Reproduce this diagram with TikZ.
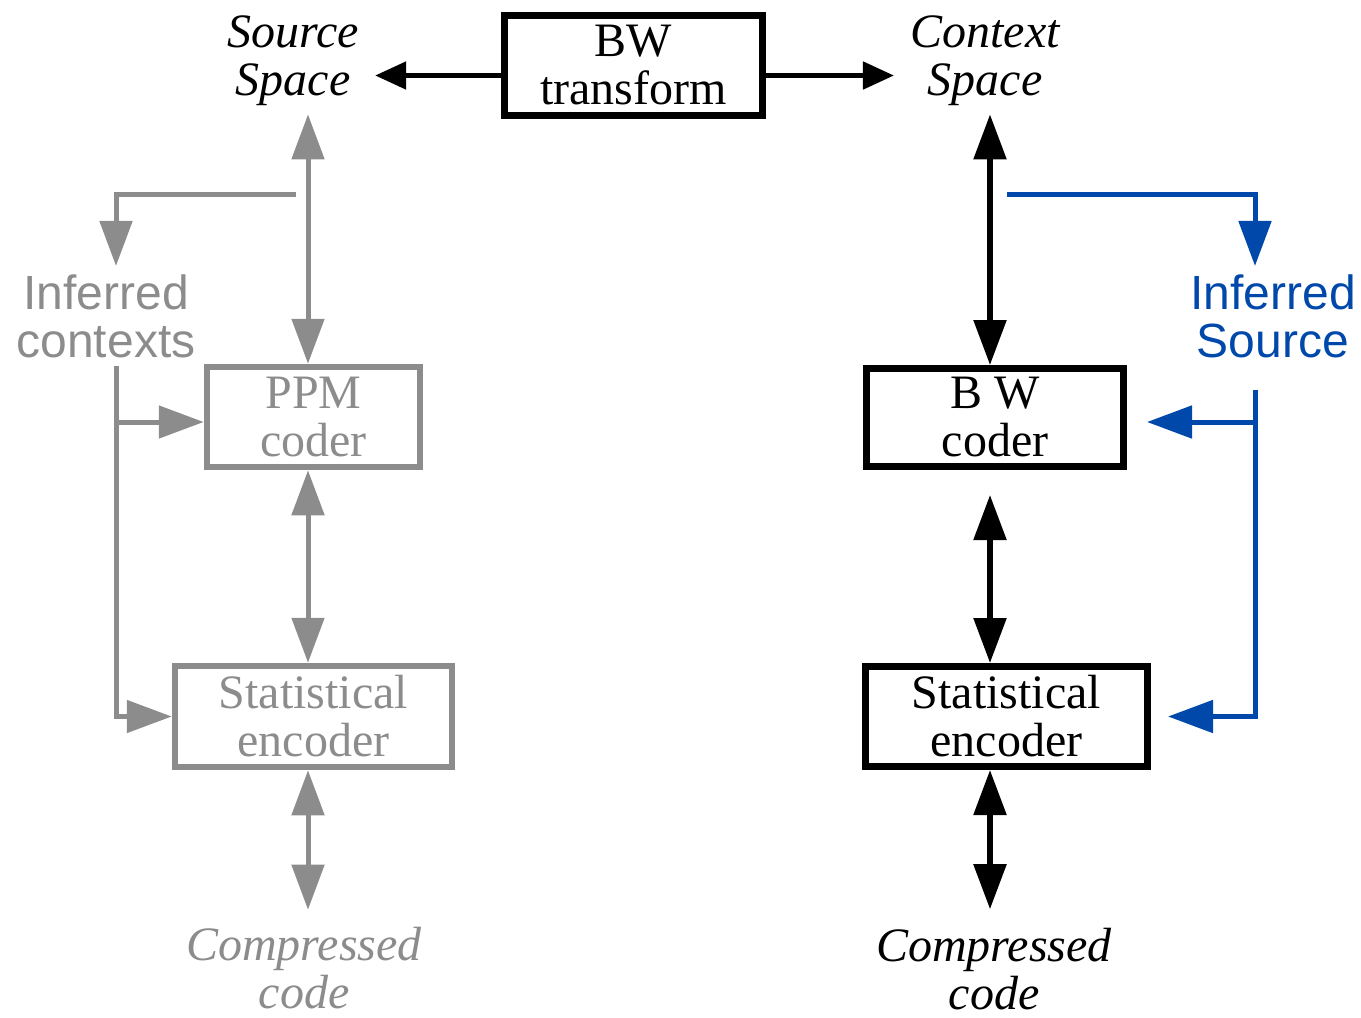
\documentclass[tikz,border=0pt]{standalone}
\usepackage{fontspec}
\setmainfont{Liberation Serif}
\setsansfont{Liberation Sans}
\usepackage{tikz}
\usetikzlibrary{arrows.meta,calc}
\usepackage{xcolor}
\definecolor{bwgray}{RGB}{140,140,140}
\definecolor{bwblue}{RGB}{0,72,170}
\tikzset{
  bwbox/.style={draw, rectangle, line width=3.5pt, inner sep=0pt, align=center, font=\fontsize{24}{24}\selectfont},
  bwgbox/.style={bwbox, draw=bwgray, text=bwgray, line width=3.25pt},
  bwlabel/.style={inner xsep=8pt, inner ysep=4pt, align=center, font=\fontsize{24}{24}\selectfont\itshape},
  bwside/.style={inner xsep=8pt, inner ysep=4pt, align=center, font=\fontsize{24}{24}\selectfont\sffamily},
  bwarrow/.style={-{Triangle[length=15.5pt, width=13.5pt]}, line width=2.5pt},
  bwdarrow/.style={{Triangle[length=22.5pt, width=16pt]}-{Triangle[length=22.5pt, width=16pt]}, line width=2.75pt},
  bwline/.style={line width=2.5pt},
  bwtip/.style={-{Triangle[length=22.5pt, width=16pt]}},
}

\begin{document}
\begin{tikzpicture}[x=0.5pt,y=-0.5pt]
  \useasboundingbox (0,0) rectangle (1361,1018);

  \node[bwbox, minimum width=129pt, minimum height=50pt] (bwt) at (633.5,65.5) {BW\\transform};
  \node[bwlabel] (src) at (293,61) {Source\\Space};
  \node[bwlabel] (ctx) at (985,61) {Context\\Space};
  \coordinate (bwtl) at ([yshift=-5pt]bwt.west);
  \coordinate (bwtr) at ([yshift=-5pt]bwt.east);

  \draw[bwarrow] (bwtl) -- (src.east |- bwtl);
  \draw[bwarrow] (bwtr) -- (ctx.west |- bwtr);

  % PPM side
  \node[bwgbox, minimum width=106.5pt, minimum height=50pt] (ppm) at (313.5,417) {PPM\\coder};
  \node[bwgbox, minimum width=138.5pt, minimum height=50.5pt] (gse) at (313.5,716.5) {Statistical\\encoder};
  \node[bwside, text=bwgray] (infc) at (106,316) {Inferred\\contexts};
  \node[bwlabel, text=bwgray, inner ysep=1pt] (gcode) at (304,968) {Compressed\\code};
  \coordinate (gx) at (308,0);
  \coordinate (gtap) at (296,194);
  \coordinate (gbus) at ([xshift=5pt]infc.south);
  \coordinate (ppmin) at ([yshift=-2.5pt]ppm.west);

  \draw[bwdarrow, bwgray, line width=2.5pt] (src.south -| gx) -- (ppm.north -| gx);
  \draw[bwdarrow, bwgray, line width=2.5pt] (ppm.south -| gx) -- (gse.north -| gx);
  \draw[bwdarrow, bwgray, line width=2.5pt, shorten >=7.5pt] (gse.south -| gx) -- (gcode.north -| gx);
  \draw[bwline, bwtip, bwgray] (gtap) -| ([xshift=5pt]infc.north);
  \draw[bwline, bwtip, bwgray] (gbus) |- (gse.west);
  \draw[bwline, bwtip, bwgray] (gbus |- ppmin) -- (ppmin);

  % BW side
  \node[bwbox, minimum width=128.5pt, minimum height=49pt] (bwc) at (995,417.5) {B W\\coder};
  \node[bwbox, minimum width=141pt, minimum height=50pt] (bse) at (1006.5,716.5) {Statistical\\encoder};
  \node[bwside, text=bwblue] (infs) at (1273,316) {Inferred\\Source};
  \node[bwlabel, inner ysep=1pt] (bcode) at (994,969.5) {Compressed\\code};
  \coordinate (bx) at (990,0);
  \coordinate (btap) at (1007,194);
  \coordinate (bbus) at (1255,390);
  \coordinate (bwcin) at ([yshift=-2.25pt]bwc.east);

  \draw[bwdarrow] (ctx.south -| bx) -- (bwc.north -| bx);
  \draw[bwdarrow, shorten <=12.5pt] (bwc.south -| bx) -- (bse.north -| bx);
  \draw[bwdarrow, shorten >=8.5pt] (bse.south -| bx) -- (bcode.north -| bx);
  \draw[bwline, bwtip, bwblue] (btap) -| ([xshift=-9pt]infs.north);
  \draw[bwline, bwtip, bwblue, shorten >=8.5pt] (bbus) |- (bse.east);
  \draw[bwline, bwtip, bwblue, shorten >=10pt] (bbus |- bwcin) -- (bwcin);
\end{tikzpicture}
\end{document}
